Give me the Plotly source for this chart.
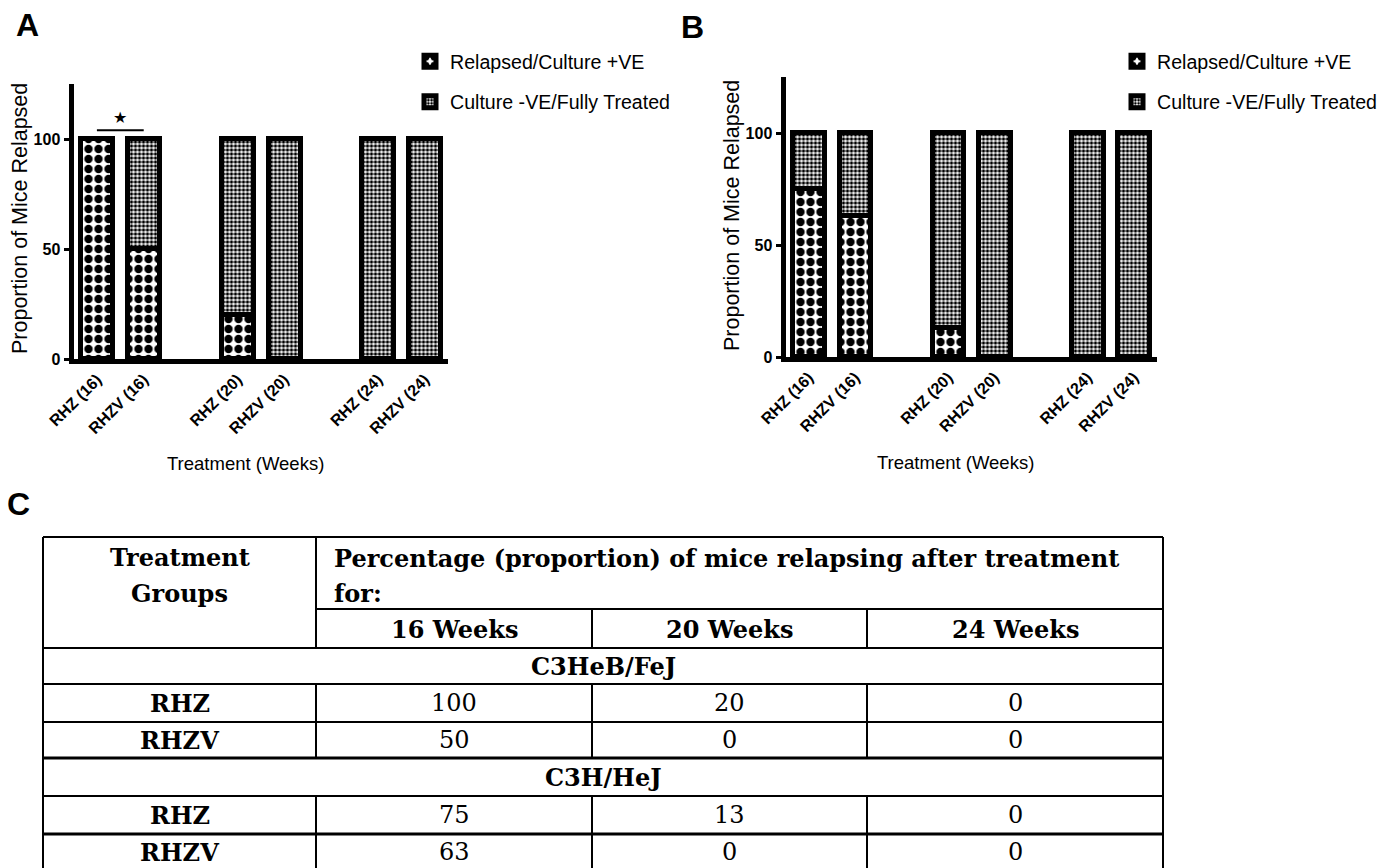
import plotly.graph_objects as go

# ------------------------------------------------------------------ data
categories = ["RHZ (16)", "RHZV (16)", "RHZ (20)", "RHZV (20)", "RHZ (24)", "RHZV (24)"]
legend_names = ["Relapsed/Culture +VE", "Culture -VE/Fully Treated"]

relapsed_A = [100, 50, 20, 0, 0, 0]
treated_A = [0, 50, 80, 100, 100, 100]
relapsed_B = [75, 63, 13, 0, 0, 0]
treated_B = [25, 37, 87, 100, 100, 100]

y_tick_vals = [0, 50, 100]
y_title = "Proportion of Mice Relapsed"
x_title = "Treatment (Weeks)"
panel_labels = ["A", "B", "C"]
star_text = "\u2605"

table_header_groups = ["Treatment", "Groups"]
table_header_pct = ["Percentage (proportion) of mice relapsing after treatment", "for:"]
table_weeks = ["16 Weeks", "20 Weeks", "24 Weeks"]
table_strains = ["C3HeB/FeJ", "C3H/HeJ"]
table_regimens = ["RHZ", "RHZV"]
pct_C3HeB_RHZ = [100, 20, 0]
pct_C3HeB_RHZV = [50, 0, 0]
pct_C3H_RHZ = [75, 13, 0]
pct_C3H_RHZV = [63, 0, 0]

# ------------------------------------------------------------------ layout helpers
W, H = 1379, 868
SANS = "Liberation Sans, Arial, sans-serif"
SERIF = "DejaVu Serif, serif"


def px(x):
    return x / W


def py(y):
    return 1 - y / H


# bar slot positions: pairs with one empty slot between weeks
slots = [i + i // 2 for i in range(len(categories))]
BAR_W = 0.68
LINE_W = 5

pat_rel = dict(shape=".", size=10, solidity=0.55, fgcolor="black", bgcolor="white", fillmode="replace")
pat_trt = dict(shape=".", size=4, solidity=0.55, fgcolor="black", bgcolor="white", fillmode="replace")

fig = go.Figure()

panels = [
    ("x", "y", "legend", relapsed_A, treated_A, "A"),
    ("x2", "y2", "legend2", relapsed_B, treated_B, "B"),
]
for xa, ya, lg, rel, trt, tag in panels:
    fig.add_trace(go.Bar(
        x=slots, y=rel, width=BAR_W, xaxis=xa, yaxis=ya, legend=lg,
        name=legend_names[0], legendgroup="rel" + tag,
        marker=dict(color="white", line=dict(color="black", width=LINE_W), pattern=pat_rel),
        hoverinfo="skip",
    ))
    fig.add_trace(go.Bar(
        x=slots, y=trt, width=BAR_W, xaxis=xa, yaxis=ya, legend=lg,
        name=legend_names[1], legendgroup="trt" + tag,
        marker=dict(color="white", line=dict(color="black", width=LINE_W), pattern=pat_trt),
        hoverinfo="skip",
    ))

# empty trace so the table subplot exists
fig.add_trace(go.Scatter(x=[], y=[], xaxis="x3", yaxis="y3", showlegend=False))

tick_font_x = dict(family=SANS, size=16, color="black", weight="bold")
tick_font_y = dict(family=SANS, size=16, color="black", weight="bold")


def xaxis_cfg(l, r):
    return dict(
        domain=[px(l), px(r)], range=[-0.5, 7.5], tickmode="array",
        tickvals=slots, ticktext=categories, tickangle=-45, tickfont=tick_font_x,
        showline=True, linewidth=LINE_W, linecolor="black", ticks="",
        showgrid=False, zeroline=False, fixedrange=True, automargin=False,
    )


def yaxis_cfg(top, bottom):
    return dict(
        domain=[py(bottom), py(top)], range=[0, 125], tickmode="array",
        tickvals=y_tick_vals, tickfont=tick_font_y, ticks="outside", ticklen=5,
        tickwidth=3, tickcolor="black", showline=True, linewidth=LINE_W,
        linecolor="black", showgrid=False, zeroline=False, fixedrange=True,
        automargin=False,
    )


# ------------------------------------------------------------------ table geometry (layout units = px offsets)
T_LEFT, T_RIGHT, T_TOP = 43, 1163, 537
col_edges = [0, 273, 549, 824, 1120]
row_edges = [0, 111, 147, 185, 221, 259, 297, 333]
sub_header = 72
col_c = [(col_edges[i] + col_edges[i + 1]) / 2 for i in range(4)]

shapes = []


def hline(y, x0, x1, w=2):
    shapes.append(dict(type="line", xref="x3", yref="y3", x0=x0, x1=x1, y0=y, y1=y,
                       line=dict(color="black", width=w)))


def vline(x, y0, y1, w=2):
    shapes.append(dict(type="line", xref="x3", yref="y3", x0=x, x1=x, y0=y0, y1=y1,
                       line=dict(color="black", width=w)))


for i, y in enumerate(row_edges):
    hline(y, col_edges[0], col_edges[-1], 3 if y in (221, 297) else 2)
hline(sub_header, col_edges[1], col_edges[-1])
vline(col_edges[0], 0, row_edges[-1])
vline(col_edges[-1], 0, row_edges[-1])
data_rows = [(row_edges[2], row_edges[4]), (row_edges[5], row_edges[7])]
vline(col_edges[1], 0, row_edges[1])
for y0, y1 in data_rows:
    vline(col_edges[1], y0, y1)
for c in col_edges[2:4]:
    vline(c, sub_header, row_edges[1])
    for y0, y1 in data_rows:
        vline(c, y0, y1)

# significance bar in panel A
shapes.append(dict(type="line", xref="x", yref="y", x0=slots[0], x1=slots[1], y0=104, y1=104,
                   line=dict(color="black", width=2)))

ann = []


def t_ann(text, x, y, bold=True, size=24, xanchor="center"):
    ann.append(dict(text=text, x=x, y=y, xref="x3", yref="y3", showarrow=False,
                    xanchor=xanchor, yanchor="middle",
                    font=dict(family=SERIF, size=size, color="black",
                              weight="bold" if bold else "normal")))


t_ann(table_header_groups[0], col_c[0], 20)
t_ann(table_header_groups[1], col_c[0], 56)
t_ann(table_header_pct[0], col_edges[1] + 16, 21, xanchor="left")
t_ann(table_header_pct[1], col_edges[1] + 16, 56, xanchor="left")
for i, wk in enumerate(table_weeks):
    t_ann(wk, col_c[i + 1], (sub_header + row_edges[1]) / 2 + 1)

strain_rows = [
    (table_strains[0], [(table_regimens[0], pct_C3HeB_RHZ), (table_regimens[1], pct_C3HeB_RHZV)], 1),
    (table_strains[1], [(table_regimens[0], pct_C3H_RHZ), (table_regimens[1], pct_C3H_RHZV)], 4),
]
for strain, rows, r0 in strain_rows:
    t_ann(strain, (col_edges[0] + col_edges[-1]) / 2, (row_edges[r0] + row_edges[r0 + 1]) / 2)
    for k, (reg, vals) in enumerate(rows):
        ri = r0 + 1 + k
        yc = (row_edges[ri] + row_edges[ri + 1]) / 2
        t_ann(reg, col_c[0], yc)
        for j, v in enumerate(vals):
            t_ann(str(v), col_c[j + 1], yc, bold=False)

# panel labels, axis titles, star
for lab, (x, y) in zip(panel_labels, [(27, 25), (693, 27), (18, 504)]):
    ann.append(dict(text=lab, x=px(x), y=py(y), xref="paper", yref="paper", showarrow=False,
                    xanchor="center", yanchor="middle",
                    font=dict(family=SANS, size=32, color="black", weight="bold")))
for x, y in [(20, 219), (732, 215)]:
    ann.append(dict(text=y_title, x=px(x), y=py(y), xref="paper", yref="paper", showarrow=False,
                    textangle=-90, xanchor="center", yanchor="middle",
                    font=dict(family=SANS, size=21.5, color="black")))
for x, y in [(246, 463), (955, 462)]:
    ann.append(dict(text=x_title, x=px(x), y=py(y), xref="paper", yref="paper", showarrow=False,
                    xanchor="center", yanchor="middle",
                    font=dict(family=SANS, size=18.5, color="black")))
ann.append(dict(text=star_text, x=(slots[0] + slots[1]) / 2, y=110, xref="x", yref="y",
                showarrow=False, xanchor="center", yanchor="middle",
                font=dict(family="DejaVu Sans", size=16, color="black")))

legend_common = dict(yanchor="top", traceorder="grouped", tracegroupgap=12,
                     font=dict(family=SANS, size=19.6, color="black"), bgcolor="rgba(0,0,0,0)",
                     itemclick=False, itemdoubleclick=False)

fig.update_layout(
    width=W, height=H, margin=dict(l=0, r=0, t=0, b=0, autoexpand=False),
    paper_bgcolor="white", plot_bgcolor="white",
    barmode="stack", bargap=0,
    xaxis=dict(anchor="y", **xaxis_cfg(73.5, 448)),
    yaxis=dict(anchor="x", **yaxis_cfg(84, 359)),
    xaxis2=dict(anchor="y2", **xaxis_cfg(785.5, 1157)),
    yaxis2=dict(anchor="x2", **yaxis_cfg(77, 357)),
    xaxis3=dict(anchor="y3", domain=[px(T_LEFT - 5), px(T_RIGHT + 5)], range=[-5, 1125], visible=False,
                fixedrange=True),
    yaxis3=dict(anchor="x3", domain=[0, py(T_TOP - 5)], range=[H - T_TOP, -5], visible=False,
                fixedrange=True),
    legend=dict(x=px(410), y=py(42), xanchor="left", **legend_common),
    legend2=dict(x=px(1117), y=py(42), xanchor="left", **legend_common),
    shapes=shapes, annotations=ann, showlegend=True,
)

fig.write_html("out.html")
